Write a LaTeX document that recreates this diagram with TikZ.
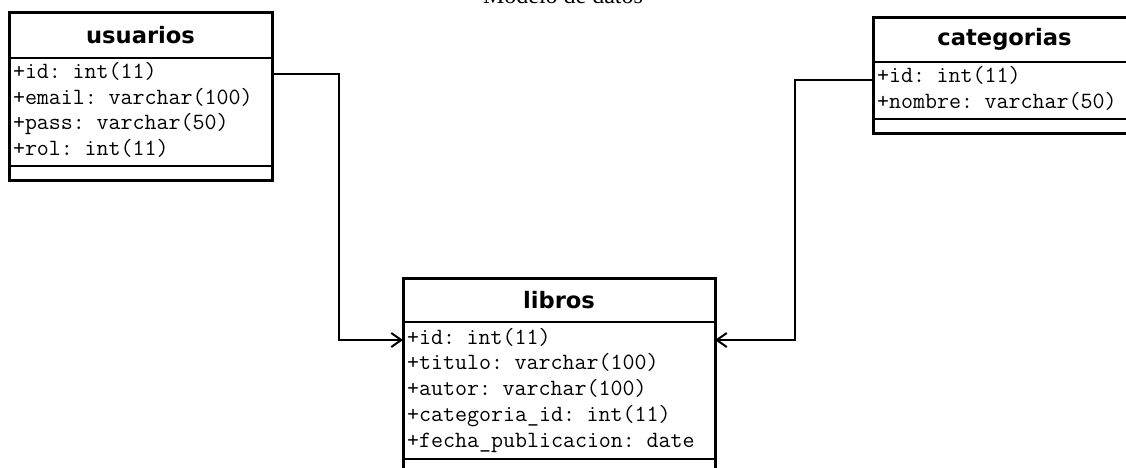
\documentclass[tikz,border=0pt]{standalone}
\usepackage{fontspec}
\setmainfont{Liberation Serif}
\newfontfamily\headfont{DejaVu Sans}
\usetikzlibrary{positioning}
\usetikzlibrary{arrows.meta}
\newcommand{\fld}[1]{\strut#1}

\begin{document}
\begin{tikzpicture}[x=1pt,y=-1pt,>={Straight Barb[length=10pt,width=14pt]},
                    line width=2pt]
    \tikzstyle{head}=[draw,inner sep=0pt,outer sep=0pt,anchor=north west,
        font=\headfont\bfseries\fontsize{22.6}{27}\selectfont]
    \tikzstyle{attrs}=[draw,inner xsep=4pt,inner ysep=0pt,outer sep=0pt,align=left,
        font=\ttfamily\fontsize{23.3}{25.7}\selectfont]
    \tikzstyle{foot}=[draw,inner sep=0pt,outer sep=0pt,minimum height=14pt]
    \tikzstyle{frame}=[draw,line width=3pt]
    \tikzstyle{link}=[->,line width=2pt]

    \useasboundingbox (0,0) rectangle (1126,467);
    \clip (0,0) rectangle (1126,467);

    \node[font=\fontsize{24}{28}\selectfont,anchor=base] (title) at (563,3.5) {Modelo de datos};

    % usuarios
    \node[head,minimum width=263pt,minimum height=46pt] (usuarios) at (9,12) {usuarios};
    \node[attrs,text width=255pt,minimum height=108pt,below=0pt of usuarios] (usuarios_b)
        {\fld{+id: int(11)}\\\fld{+email: varchar(100)}\\\fld{+pass: varchar(50)}\\\fld{+rol: int(11)}};
    \node[foot,minimum width=263pt,below=0pt of usuarios_b] (usuarios_f) {};
    \draw[frame] (usuarios.north west) rectangle (usuarios_f.south east);

    % categorias
    \node[head,minimum width=263pt,minimum height=45pt] (categorias) at (873,17) {categorias};
    \node[attrs,text width=255pt,minimum height=57pt,below=0pt of categorias] (categorias_b)
        {\fld{+id: int(11)}\\\fld{+nombre: varchar(50)}};
    \node[foot,minimum width=263pt,below=0pt of categorias_b] (categorias_f) {};
    \draw[frame] (categorias.north west) rectangle (categorias_f.south east);

    % libros
    \node[head,minimum width=312pt,minimum height=44pt] (libros) at (403,278) {libros};
    \node[attrs,text width=304pt,minimum height=137pt,below=0pt of libros] (libros_b)
        {\fld{+id: int(11)}\\\fld{+titulo: varchar(100)}\\\fld{+autor: varchar(100)}\\
         \fld{+categoria\_id: int(11)}\\\fld{+fecha\_publicacion: date}};
    \node[foot,minimum width=312pt,below=0pt of libros_b] (libros_f) {};
    \draw[frame] (libros.north west) rectangle (libros_f.south east);

    \coordinate (u_id) at ([yshift=-16pt]usuarios_b.north east);
    \coordinate (c_id) at ([yshift=-18pt]categorias_b.north west);
    \coordinate (l_in) at ([yshift=-18pt]libros_b.north west);
    \coordinate (l_out) at ([yshift=-18pt]libros_b.north east);

    \draw[link] (u_id) -- ++(67,0) |- (l_in);
    \draw[link] (c_id) -- ++(-78,0) |- (l_out);
\end{tikzpicture}
\end{document}
